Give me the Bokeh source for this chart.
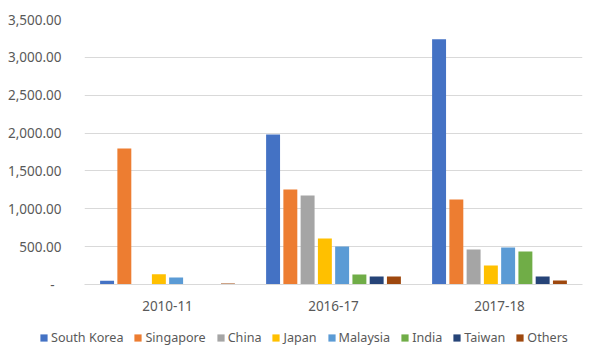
from bokeh.plotting import figure
from bokeh.models import (ColumnDataSource, FactorRange, Range1d, Legend, LegendItem,
                          CustomJSTickFormatter, FixedTicker)
from bokeh.transform import dodge
from bokeh.embed import file_html
from bokeh.resources import INLINE

categories = ["2010-11", "2016-17", "2017-18"]
series_names = ["South Korea", "Singapore", "China", "Japan", "Malaysia", "India", "Taiwan", "Others"]
south_korea = [50, 1980, 3240]
singapore = [1795, 1255, 1123]
china = [0, 1175, 462]
japan = [135, 607, 251]
malaysia = [92, 501, 488]
india = [0, 132, 435]
taiwan = [0, 105, 105]
others = [13, 105, 53]
y_ticks = [0, 500, 1000, 1500, 2000, 2500, 3000, 3500]

colors = ["#4472C4", "#ED7D31", "#A5A5A5", "#FFC000", "#5B9BD5", "#70AD47", "#264478", "#9E480E"]
values = [south_korea, singapore, china, japan, malaysia, india, taiwan, others]

data = {"cat": categories}
for name, vals in zip(series_names, values):
    data[name] = vals
source = ColumnDataSource(data)

FONT = "Noto Sans"
TXT = "#595959"
GRID = "#D9D9D9"
FS = "13.5px"

p = figure(width=593, height=318, x_range=FactorRange(*categories, range_padding=0),
           y_range=Range1d(0, 3500), output_backend="svg", toolbar_location=None,
           min_border_left=84, min_border_right=11, min_border_top=19, min_border_bottom=34)
p.outline_line_color = None
p.background_fill_color = "white"
p.border_fill_color = "white"

pitch = 0.104
width = 0.084
for i, (name, col) in enumerate(zip(series_names, colors)):
    off = (i - 3.5) * pitch
    p.vbar(x=dodge("cat", off, range=p.x_range), top=name, width=width, source=source,
           fill_color=col, line_color=None)

p.xgrid.grid_line_color = None
p.ygrid.grid_line_color = GRID
p.ygrid.grid_line_width = 1
p.yaxis.ticker = FixedTicker(ticks=y_ticks)
p.yaxis.formatter = CustomJSTickFormatter(code="""
if (tick == 0) { return '-\\u00a0\\u00a0'; }
return tick.toLocaleString('en-US', {minimumFractionDigits: 2, maximumFractionDigits: 2});
""")
p.yaxis.axis_line_color = None
p.yaxis.major_tick_line_color = None
p.yaxis.minor_tick_line_color = None
p.yaxis.major_label_standoff = 17
p.yaxis.major_label_text_font = FONT
p.yaxis.major_label_text_font_size = FS
p.yaxis.major_label_text_color = TXT

p.xaxis.axis_line_color = GRID
p.xaxis.major_tick_line_color = None
p.xaxis.minor_tick_line_color = None
p.xaxis.major_label_standoff = 10
p.xaxis.major_label_text_font = FONT
p.xaxis.major_label_text_font_size = FS
p.xaxis.major_label_text_color = TXT

# legend strip below the chart (separate root; its proxy bars have zero width)
lg = figure(width=593, height=35, x_range=Range1d(0, 1), y_range=Range1d(-2, -1),
            output_backend="svg", toolbar_location=None, x_axis_type=None, y_axis_type=None,
            min_border_left=0, min_border_right=0, min_border_top=0, min_border_bottom=0)
lg.outline_line_color = None
lg.grid.visible = False
lg.border_fill_color = "white"
lg.background_fill_color = "white"
items = []
for name, col in zip(series_names, colors):
    r = lg.vbar(x=0.5, top=name, width=0, source=source, fill_color=col, line_color=None)
    items.append(LegendItem(label=name, renderers=[r], index=0))

legend = Legend(items=items, orientation="horizontal", location=(39, 7),
                glyph_width=9, glyph_height=9, label_standoff=3, spacing=10,
                padding=0, margin=0, border_line_color=None, background_fill_alpha=0,
                label_text_font=FONT, label_text_font_size="12.6px", label_text_color=TXT,
                label_height=16)
lg.add_layout(legend, "center")

open("out.html", "w").write(file_html([p, lg], INLINE))
